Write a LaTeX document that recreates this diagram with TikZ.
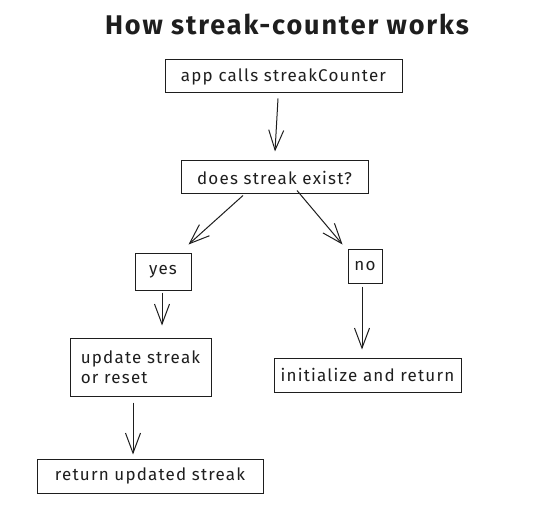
\documentclass[tikz,border=0pt]{standalone}
\usepackage{fontspec}
\setmainfont{Fira Sans}[LetterSpace=7]
\usetikzlibrary{arrows.meta}
\definecolor{ink}{HTML}{1E1E1E}
\tikzset{
  stepbox/.style={draw=ink,line width=1pt,inner sep=0pt,text=ink,font=\fontsize{17}{20}\selectfont},
  flow/.style={draw=ink,line width=1pt,-{Straight Barb[length=20pt,width=15pt,line width=1pt]}},
}
\begin{document}
\begin{tikzpicture}[x=1pt,y=-1pt]
\useasboundingbox[fill=white] (0,0) rectangle (560,508);
\node[font=\fontsize{27}{30}\selectfont\bfseries,text=ink] (title) at (287,24) {How streak-counter works};
\node[stepbox,minimum width=237pt,minimum height=33pt] (app) at (283.5,76.5) {app calls streakCounter};
\node[stepbox,minimum width=187pt,minimum height=33pt] (exist) at (274.5,177.5) {does streak exist?};
\node[stepbox,minimum width=56pt,minimum height=37pt] (yes) at (163,271.5) {yes};
\node[stepbox,minimum width=34pt,minimum height=34pt] (no) at (365,266) {no};
\node[stepbox,minimum width=141pt,minimum height=58pt,align=left] (update) at (140.5,367) {update streak\\or reset};
\node[stepbox,minimum width=187pt,minimum height=34pt] (init) at (367.5,375) {initialize and return};
\node[stepbox,minimum width=226pt,minimum height=34pt] (ret) at (150,476) {return updated streak};
% connectors
\draw[flow] ([xshift=-5.5pt,yshift=-5pt]app.south) -- ([xshift=0.5pt,yshift=9pt]exist.north);
\draw[flow] ([xshift=-31.5pt,yshift=-1pt]exist.south) -- ([xshift=-3pt,yshift=8pt]yes.north east);
\draw[flow] ([xshift=22.5pt,yshift=4pt]exist.south) -- ([xshift=-5pt,yshift=4pt]no.north west);
\draw[flow] ([xshift=-1pt,yshift=-2pt]yes.south) -- ([xshift=21.5pt,yshift=12pt]update.north);
\draw[flow] ([xshift=-3pt,yshift=-3pt]no.south) -- ([xshift=-5.5pt,yshift=8pt]init.north);
\draw[flow] ([xshift=-7.5pt,yshift=-6pt]update.south) -- ([xshift=-17pt,yshift=4pt]ret.north);
\end{tikzpicture}
\end{document}
